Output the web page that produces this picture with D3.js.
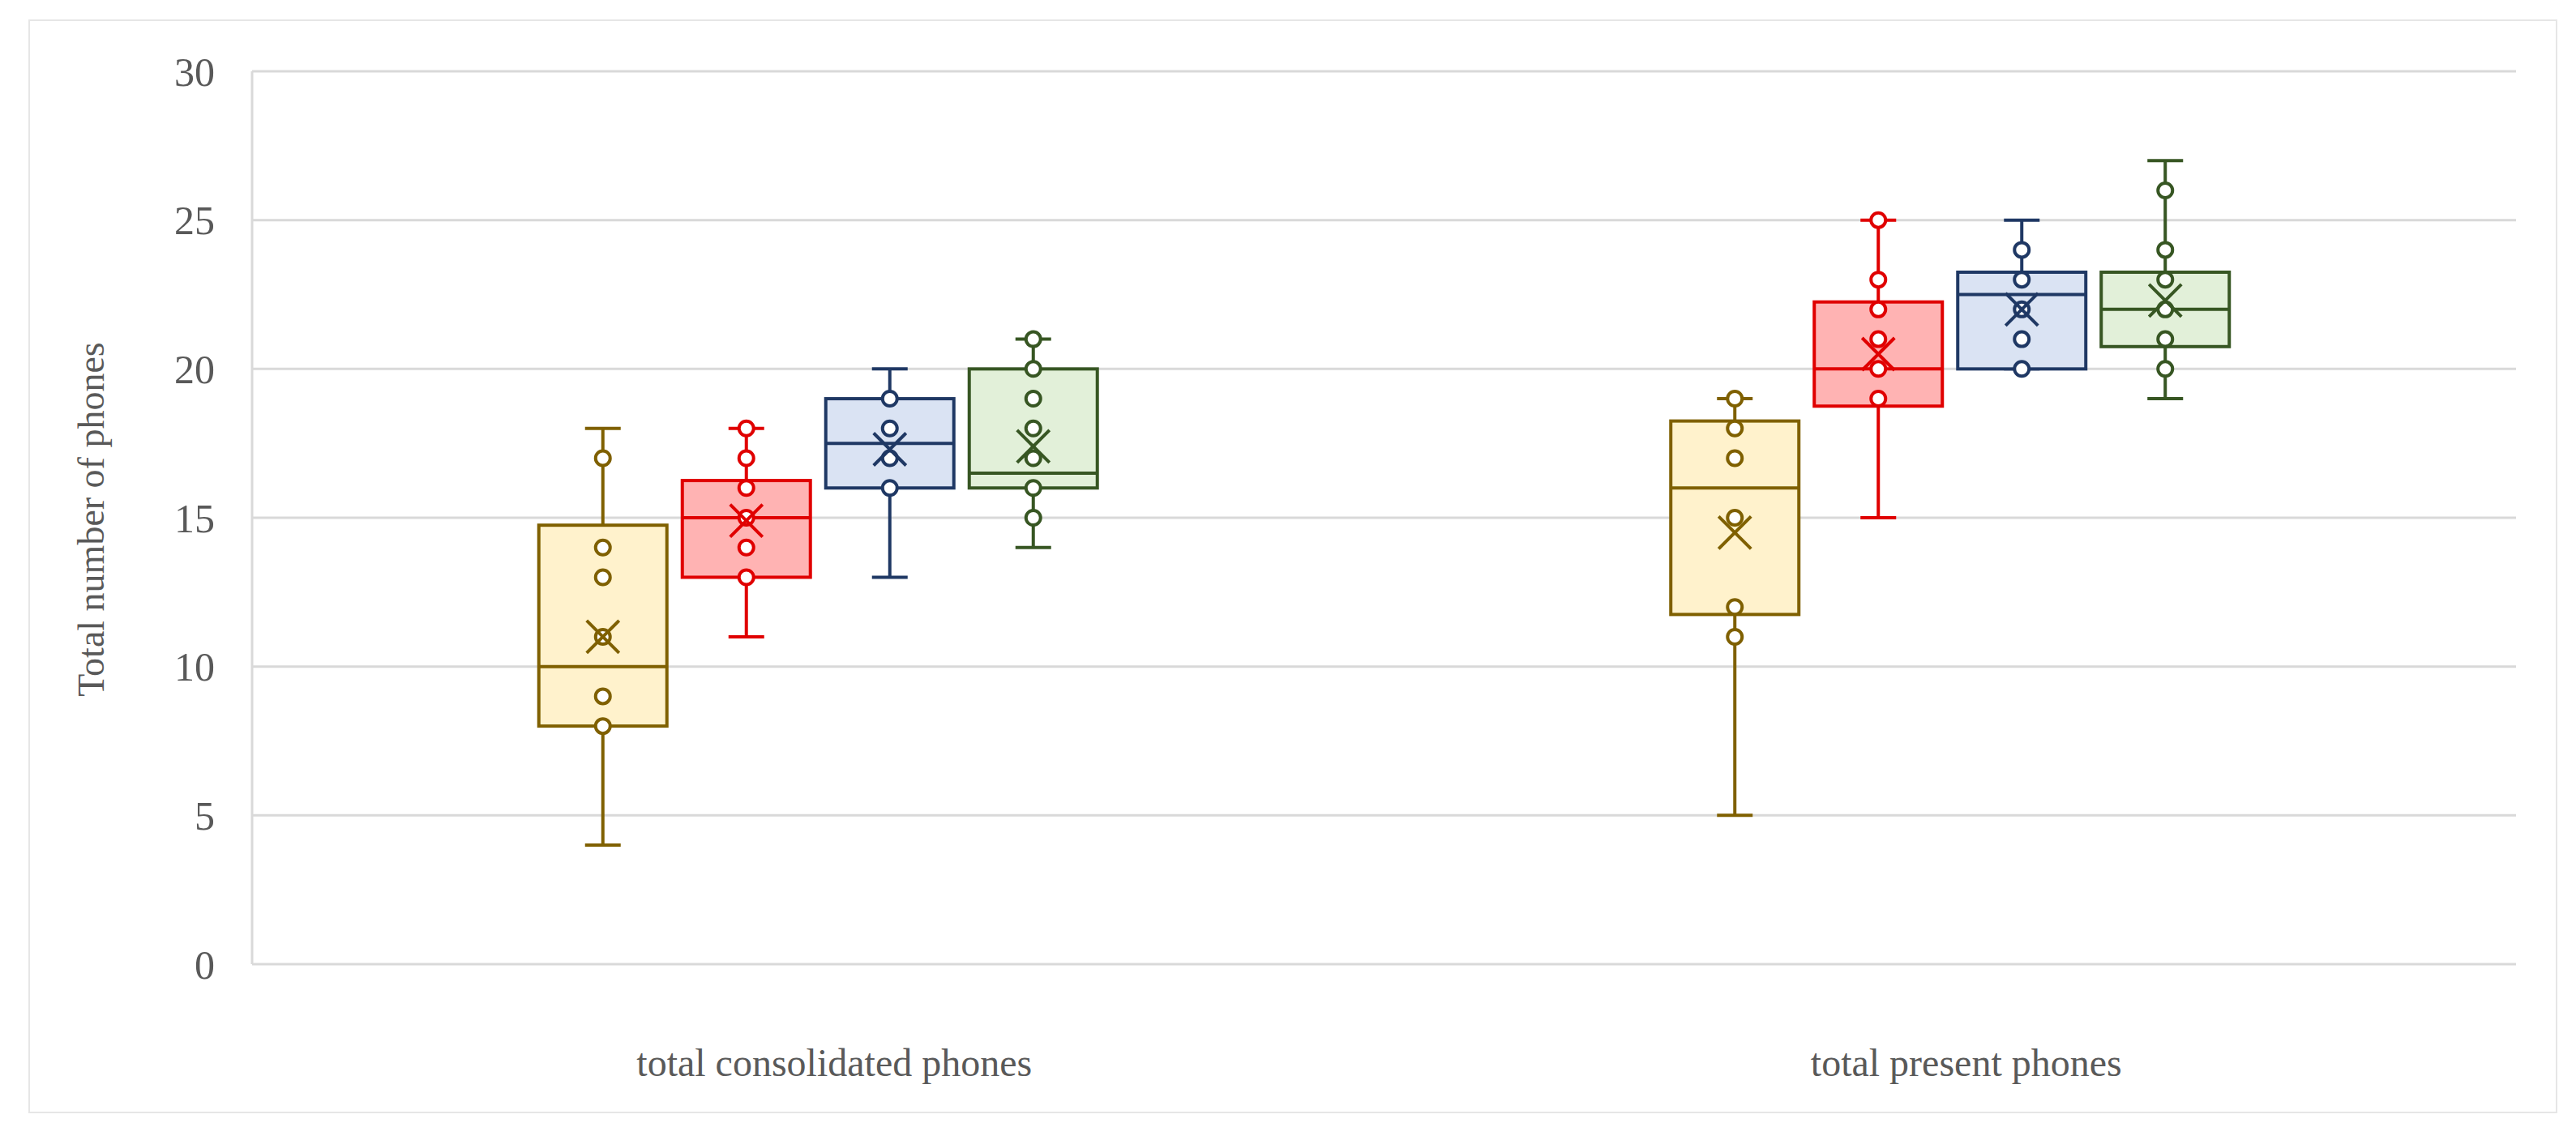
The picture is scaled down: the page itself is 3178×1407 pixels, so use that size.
<!DOCTYPE html>
<html><head><meta charset="utf-8">
<script src="https://cdn.jsdelivr.net/npm/d3@7"></script>
<style>body{margin:0;background:#fff}</style></head>
<body><svg id="c" width="3178" height="1407"></svg>
<script>
const categories = ["total consolidated phones", "total present phones"];
const seriesNames = ["s1", "s2", "s3", "s4"];
const strokeColors = ["#7f6000", "#e00000", "#1f3864", "#375623"];
const fillColors = ["#fff2cc", "#ffb3b3", "#dae3f3", "#e2f0d9"];
const yTicks = [0, 5, 10, 15, 20, 25, 30];
// [min, q1, median, q3, max, mean]
const stats = [
  [[4, 8, 10, 14.75, 18, 11], [11, 13, 15, 16.25, 18, 14.9], [13, 16, 17.5, 19, 20, 17.3], [14, 16, 16.5, 20, 21, 17.4]],
  [[5, 11.75, 16, 18.25, 19, 14.5], [15, 18.75, 20, 22.25, 25, 20.5], [20, 20, 22.5, 23.25, 25, 22], [19, 20.75, 22, 23.25, 27, 22.3]]
];
const points = [
  [[17, 14, 13, 11, 9, 8], [18, 17, 16, 15, 14, 13], [19, 18, 17, 16], [21, 20, 19, 18, 17, 16, 15]],
  [[19, 18, 17, 15, 12, 11], [25, 23, 22, 21, 20, 19], [24, 23, 22, 21, 20], [26, 24, 23, 22, 21, 20]]
];

const svg = d3.select("#c");
svg.append("rect").attr("x", 36).attr("y", 25).attr("width", 3118).attr("height", 1348)
  .attr("fill", "#fff").attr("stroke", "#e6e6e6").attr("stroke-width", 2);
const L = 311, R = 3104, T = 88, B = 1190;
const y = d3.scaleLinear().domain([0, 30]).range([B, T]);
const x = d3.scaleBand().domain(categories).range([L, R]);
const xs = d3.scaleBand().domain(seriesNames).range([0, 708]);
const font = "'Liberation Serif','Times New Roman',serif";

svg.append("g").selectAll("line").data(yTicks).join("line")
  .attr("x1", L).attr("x2", R).attr("y1", d => y(d)).attr("y2", d => y(d))
  .attr("stroke", "#d9d9d9").attr("stroke-width", 3);
svg.append("line").attr("x1", L).attr("x2", L).attr("y1", T).attr("y2", B).attr("stroke", "#d9d9d9").attr("stroke-width", 3);
svg.append("g").selectAll("text").data(yTicks).join("text")
  .attr("x", 265).attr("y", d => y(d)).attr("dy", "0.35em").attr("text-anchor", "end")
  .attr("font-family", font).attr("font-size", 50).attr("fill", "#595959").text(d => d);
svg.append("text").attr("transform", "translate(112,641) rotate(-90)").attr("text-anchor", "middle")
  .attr("dy", "0.35em").attr("font-family", font).attr("font-size", 46).attr("fill", "#595959")
  .text("Total number of phones");
svg.append("g").selectAll("text").data(categories).join("text")
  .attr("x", d => x(d) + x.bandwidth() / 2 + 20).attr("y", 1328).attr("text-anchor", "middle")
  .attr("font-family", font).attr("font-size", 48).attr("fill", "#595959").text(d => d);

const bw = 158, cap = 22, sw = 4;
categories.forEach((cat, ci) => {
  const g0 = x(cat) + x.bandwidth() / 2 - 354;
  seriesNames.forEach((s, si) => {
    const [mn, q1, md, q3, mx, mean] = stats[ci][si];
    const cx = g0 + xs(s) + xs.bandwidth() / 2;
    const col = strokeColors[si];
    const g = svg.append("g").attr("stroke", col).attr("stroke-width", sw).attr("fill", "none");
    g.append("line").attr("x1", cx).attr("x2", cx).attr("y1", y(mx)).attr("y2", y(q3));
    g.append("line").attr("x1", cx).attr("x2", cx).attr("y1", y(q1)).attr("y2", y(mn));
    g.append("line").attr("x1", cx - cap).attr("x2", cx + cap).attr("y1", y(mx)).attr("y2", y(mx));
    g.append("line").attr("x1", cx - cap).attr("x2", cx + cap).attr("y1", y(mn)).attr("y2", y(mn));
    g.append("rect").attr("x", cx - bw / 2).attr("width", bw).attr("y", y(q3)).attr("height", y(q1) - y(q3))
      .attr("fill", fillColors[si]);
    g.append("line").attr("x1", cx - bw / 2).attr("x2", cx + bw / 2).attr("y1", y(md)).attr("y2", y(md));
    g.selectAll("circle").data(points[ci][si]).join("circle")
      .attr("cx", cx).attr("cy", d => y(d)).attr("r", 9).attr("fill", "#fff");
    const m = 20, my = y(mean);
    g.append("path").attr("d", `M${cx - m},${my - m}L${cx + m},${my + m}M${cx - m},${my + m}L${cx + m},${my - m}`);
  });
});
</script></body></html>
